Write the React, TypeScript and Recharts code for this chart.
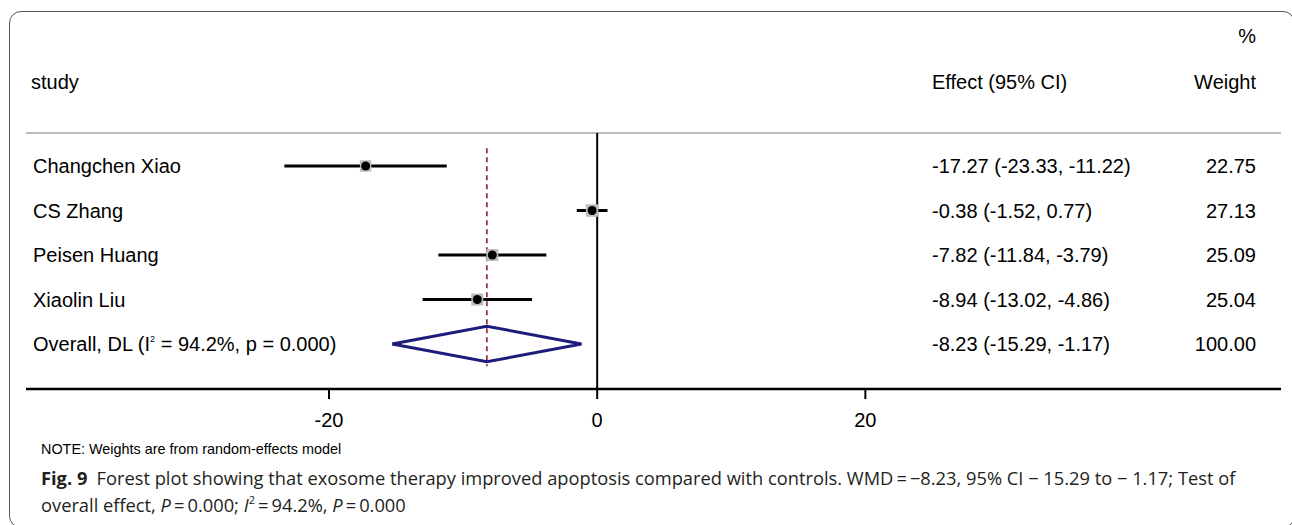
import React from 'react';
import { ScatterChart, Scatter, XAxis, YAxis, ReferenceLine } from 'recharts';

// study rows
const studies = ['Changchen Xiao', 'CS Zhang', 'Peisen Huang', 'Xiaolin Liu'];
const effects = [-17.27, -0.38, -7.82, -8.94];
const ciLow = [-23.33, -1.52, -11.84, -13.02];
const ciHigh = [-11.22, 0.77, -3.79, -4.86];
const weights = [22.75, 27.13, 25.09, 25.04];

// pooled estimate
const overallName = 'Overall, DL';
const overallI2 = '94.2%';
const overallP = '0.000';
const overallEffect = -8.23;
const overallLow = -15.29;
const overallHigh = -1.17;
const overallWeight = 100.0;

const xTicks = [-20, 0, 20];

const FONT = "'Liberation Sans', Arial, sans-serif";
const CAPTION_FONT = "'Open Sans', 'Noto Sans', sans-serif";

const overallRow = studies.length + 1;
const rowTicks = [...studies.map((_, i) => i + 1), overallRow];

const markerData = studies.map((s, i) => ({ x: effects[i], row: i + 1, w: weights[i] }));
const whiskerData = studies.map((s, i) => [
  { x: ciLow[i], row: i + 1 },
  { x: ciHigh[i], row: i + 1 },
]);
const diamondHalf = 0.4;
const diamondData = [
  { x: overallLow, row: overallRow },
  { x: overallEffect, row: overallRow - diamondHalf },
  { x: overallHigh, row: overallRow },
  { x: overallEffect, row: overallRow + diamondHalf },
  { x: overallLow, row: overallRow },
];

const fmt = (v: number) => v.toFixed(2);

const NoPoint = () => <g />;

const StudyMarker = (props: any) => {
  const { cx, cy, payload } = props;
  const side = 12 * Math.sqrt(payload.w / 25);
  return (
    <g>
      <rect x={cx - side / 2} y={cy - side / 2} width={side} height={side} fill="#bdbdbd" />
      <circle cx={cx} cy={cy} r={4.5} fill="#000" />
    </g>
  );
};

const RowTick = (props: any) => {
  const { y, payload } = props;
  const i = payload.value - 1;
  const isOverall = i >= studies.length;
  const est = isOverall ? overallEffect : effects[i];
  const lo = isOverall ? overallLow : ciLow[i];
  const hi = isOverall ? overallHigh : ciHigh[i];
  const w = isOverall ? overallWeight : weights[i];
  const textProps = { fontFamily: FONT, fontSize: 20, fill: '#000', dy: '0.36em' };
  return (
    <g>
      <text x={33} y={y} {...textProps}>
        {isOverall ? (
          <>
            {overallName} (I
            <tspan dy={-9} fontSize={9}>2</tspan>
            <tspan dy={9}>{` = ${overallI2}, p = ${overallP})`}</tspan>
          </>
        ) : (
          studies[i]
        )}
      </text>
      <text x={932} y={y} {...textProps}>
        {`${fmt(est)} (${fmt(lo)}, ${fmt(hi)})`}
      </text>
      <text x={1256} y={y} textAnchor="end" {...textProps}>
        {fmt(w)}
      </text>
    </g>
  );
};

const abs = (left: number, top: number, extra: React.CSSProperties = {}): React.CSSProperties => ({
  position: 'absolute',
  left,
  top,
  transform: 'translateY(-50%)',
  lineHeight: 1,
  whiteSpace: 'nowrap',
  ...extra,
});

export default function App() {
  const yDomain = [0.258, 6.011];
  const xDomain = [-42.6, 51.0];

  return (
    <div style={{ position: 'absolute', left: 0, top: 0, width: 1292, height: 525, background: '#fff', overflow: 'hidden' }}>
      <div
        style={{
          position: 'absolute',
          left: 9,
          top: 11,
          width: 1286,
          height: 517,
          border: '1px solid #555',
          borderRadius: 12,
          boxSizing: 'border-box',
        }}
      />

      <ScatterChart width={1292} height={434} margin={{ top: 133, right: 11, bottom: 5, left: 26 }} style={{ position: 'absolute', left: 0, top: 0 }}>
        <XAxis
          type="number"
          dataKey="x"
          domain={xDomain}
          allowDataOverflow
          ticks={xTicks}
          height={40}
          tickSize={10}
          tickMargin={14}
          axisLine={{ stroke: '#000', strokeWidth: 2.5 }}
          tickLine={{ stroke: '#000', strokeWidth: 2 }}
          tick={{ fontFamily: FONT, fontSize: 20, fill: '#000' }}
        />
        <YAxis
          type="number"
          dataKey="row"
          domain={yDomain}
          allowDataOverflow
          reversed
          mirror
          ticks={rowTicks}
          interval={0}
          axisLine={false}
          tickLine={false}
          tick={(p: any) => <RowTick {...p} />}
        />
        <ReferenceLine y={yDomain[0]} stroke="#bdbdbd" strokeWidth={2} ifOverflow="visible" />
        <ReferenceLine x={0} stroke="#000" strokeWidth={2} />
        <ReferenceLine
          segment={[
            { x: overallEffect, y: 0.6 },
            { x: overallEffect, y: overallRow + 0.5 },
          ]}
          stroke="#a3303c"
          strokeWidth={1.8}
          strokeDasharray="5 4"
        />
        {whiskerData.map((d, i) => (
          <Scatter
            key={`ci-${i}`}
            data={d}
            line={{ stroke: '#000', strokeWidth: 3 }}
            shape={NoPoint}
            isAnimationActive={false}
          />
        ))}
        <Scatter data={markerData} shape={StudyMarker} isAnimationActive={false} />
        <Scatter
          data={diamondData}
          line={{ stroke: '#1c1c7a', strokeWidth: 3, strokeLinejoin: 'miter' }}
          shape={NoPoint}
          isAnimationActive={false}
        />
      </ScatterChart>

      <div style={abs(1256, 36, { fontFamily: FONT, fontSize: 20, color: '#000', transform: 'translate(-100%, -50%)' })}>%</div>
      <div style={abs(31, 82, { fontFamily: FONT, fontSize: 20, color: '#000' })}>study</div>
      <div style={abs(932, 82, { fontFamily: FONT, fontSize: 20, color: '#000' })}>Effect (95% CI)</div>
      <div style={abs(1256, 82, { fontFamily: FONT, fontSize: 20, color: '#000', transform: 'translate(-100%, -50%)' })}>Weight</div>

      <div style={abs(41, 449, { fontFamily: FONT, fontSize: 14.4, color: '#000' })}>
        NOTE: Weights are from random-effects model
      </div>

      <div style={abs(41, 478, { fontFamily: CAPTION_FONT, fontSize: 18.3, color: '#231f20' })}>
        <b>Fig. 9</b>{'\u2002'}Forest plot showing that exosome therapy improved apoptosis compared with controls. WMD{'\u2009'}={'\u2009'}−8.23, 95% CI − 15.29 to − 1.17; Test of
      </div>
      <div style={abs(41, 505, { fontFamily: CAPTION_FONT, fontSize: 18.3, color: '#231f20' })}>
        overall effect, <i>P</i>{'\u2009'}={'\u2009'}0.000; <i>I</i>
        <sup style={{ fontSize: 11, verticalAlign: 'top', position: 'relative', top: -2 }}>2</sup>
        {'\u2009'}={'\u2009'}94.2%, <i>P</i>{'\u2009'}={'\u2009'}0.000
      </div>
    </div>
  );
}
